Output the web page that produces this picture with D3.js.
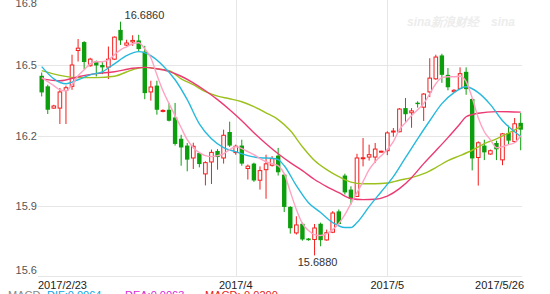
<!DOCTYPE html>
<html>
<head>
<meta charset="utf-8">
<script src="https://cdn.jsdelivr.net/npm/d3@7/dist/d3.min.js"></script>
<style>
  body { margin: 0; background: #fff; }
  svg { display: block; font-family: Arial, "Liberation Sans", sans-serif; }
</style>
</head>
<body>
<div id="chartDiv"></div>
<script>
// daily k-line, 80 sessions, 2017/2/23 .. 2017/5/26
var opens = [16.455,16.410,16.317,16.317,16.392,16.410,16.563,16.599,16.498,16.516,
  16.501,16.492,16.526,16.651,16.586,16.600,16.606,16.558,16.386,16.413,
  16.303,16.310,16.277,16.186,16.157,16.104,16.125,16.036,16.087,16.134,
  16.104,16.215,16.127,16.157,16.059,16.080,16.009,16.054,16.073,16.114,
  16.033,15.895,15.784,15.823,15.760,15.756,15.823,15.754,15.787,15.876,
  16.029,15.969,15.940,16.102,16.108,16.108,16.129,16.135,16.215,16.216,
  16.317,16.297,16.340,16.321,16.386,16.442,16.542,16.459,16.387,16.401,
  16.472,16.356,16.106,16.157,16.121,16.168,16.096,16.211,16.174,16.254];
var highs = [16.469,16.417,16.331,16.403,16.413,16.545,16.612,16.603,16.532,16.520,
  16.516,16.580,16.623,16.686,16.609,16.628,16.630,16.583,16.434,16.434,
  16.312,16.339,16.339,16.203,16.168,16.169,16.128,16.090,16.140,16.142,
  16.225,16.259,16.161,16.182,16.076,16.084,16.068,16.118,16.112,16.147,
  16.033,15.898,15.855,15.828,15.762,15.822,15.828,15.798,15.877,15.884,
  16.037,15.983,16.122,16.189,16.161,16.168,16.135,16.218,16.232,16.317,
  16.360,16.317,16.346,16.381,16.530,16.545,16.549,16.488,16.398,16.491,
  16.491,16.359,16.175,16.182,16.140,16.178,16.211,16.242,16.275,16.296];
var lows = [16.367,16.292,16.314,16.249,16.249,16.395,16.516,16.484,16.494,16.452,
  16.462,16.441,16.523,16.587,16.581,16.583,16.558,16.355,16.349,16.289,
  16.299,16.260,16.157,16.071,16.047,16.057,16.064,15.987,15.993,16.054,
  16.080,16.151,16.118,16.071,16.012,16.002,15.969,15.930,16.067,16.029,
  15.873,15.781,15.777,15.751,15.751,15.688,15.727,15.751,15.783,15.820,
  15.948,15.905,15.939,16.068,16.093,16.083,16.127,16.116,16.195,16.214,
  16.259,16.233,16.319,16.262,16.364,16.438,16.425,16.393,16.385,16.398,
  16.374,16.051,15.986,16.095,16.118,16.095,16.073,16.161,16.169,16.137];
var closes = [16.384,16.310,16.326,16.386,16.404,16.501,16.573,16.514,16.526,16.499,
  16.491,16.526,16.620,16.606,16.595,16.606,16.569,16.381,16.407,16.310,
  16.307,16.263,16.164,16.149,16.097,16.154,16.078,16.084,16.128,16.108,
  16.201,16.157,16.154,16.080,16.069,16.008,16.050,16.079,16.101,16.043,
  15.895,15.804,15.818,15.756,15.753,15.805,15.753,15.785,15.869,15.822,
  15.957,15.929,16.104,16.105,16.118,16.142,16.133,16.211,16.219,16.313,
  16.291,16.305,16.334,16.377,16.445,16.535,16.459,16.406,16.393,16.464,
  16.398,16.102,16.169,16.128,16.135,16.141,16.207,16.178,16.250,16.225];

// moving averages: [session index, value]
var ma5 = [[0,16.447],[1,16.430],[2,16.413],[3,16.395],[4,16.391],[5,16.417],[6,16.455],[7,16.481],
  [8,16.506],[9,16.515],[10,16.515],[11,16.523],[12,16.545],[13,16.566],[14,16.579],[15,16.592],
  [16,16.596],[17,16.570],[18,16.532],[19,16.459],[20,16.391],[21,16.336],[22,16.285],[23,16.233],
  [24,16.182],[25,16.148],[26,16.127],[27,16.114],[28,16.110],[29,16.114],[30,16.122],[31,16.140],
  [32,16.152],[33,16.144],[34,16.131],[35,16.118],[36,16.101],[37,16.088],[38,16.080],[39,16.071],
  [40,16.037],[41,15.960],[42,15.884],[43,15.824],[44,15.794],[45,15.777],[46,15.773],[47,15.781],
  [48,15.798],[49,15.824],[50,15.862],[51,15.909],[52,15.956],[53,16.003],[54,16.054],[55,16.088],
  [56,16.114],[57,16.140],[58,16.174],[59,16.225],[60,16.255],[61,16.285],[62,16.310],[63,16.336],
  [64,16.378],[65,16.421],[66,16.447],[67,16.451],[68,16.451],[69,16.453],[70,16.430],[71,16.361],
  [72,16.276],[73,16.216],[74,16.182],[75,16.148],[76,16.152],[77,16.161],[78,16.169],[79,16.199]];
var ma10 = [[0,16.494],[2,16.442],[4,16.421],[6,16.438],[8,16.459],[10,16.472],[12,16.506],[14,16.541],
  [16,16.558],[18,16.541],[20,16.498],[22,16.438],[24,16.353],[26,16.250],[28,16.186],[30,16.148],
  [32,16.131],[34,16.114],[36,16.105],[38,16.103],[39,16.097],[40,16.071],[42,15.986],[44,15.913],
  [46,15.871],[48,15.828],[50,15.807],[51,15.807],[52,15.828],[54,15.896],[56,15.960],[58,16.024],
  [60,16.105],[62,16.186],[64,16.263],[66,16.336],[68,16.383],[70,16.408],[72,16.383],[74,16.332],
  [76,16.263],[78,16.216],[79,16.196]];
var ma20 = [[0,16.442],[3,16.434],[6,16.451],[9,16.464],[12,16.472],[15,16.487],[17,16.491],[19,16.485],
  [21,16.474],[23,16.453],[25,16.425],[27,16.391],[29,16.353],[31,16.310],[33,16.263],[35,16.212],
  [37,16.165],[39,16.122],[41,16.084],[43,16.050],[45,16.012],[47,15.982],[49,15.956],[51,15.931],
  [53,15.926],[55,15.928],[57,15.941],[59,15.973],[61,16.020],[63,16.080],[65,16.135],[67,16.191],
  [69,16.250],[70,16.280],[72,16.295],[75,16.302],[79,16.300]];
var ma30 = [[0,16.477],[3,16.457],[6,16.447],[9,16.447],[12,16.453],[15,16.481],[17,16.491],[19,16.485],
  [21,16.477],[23,16.442],[25,16.417],[27,16.387],[29,16.368],[31,16.357],[33,16.344],[35,16.323],
  [37,16.297],[39,16.268],[41,16.221],[43,16.152],[45,16.093],[47,16.054],[49,16.024],[51,16.001],
  [53,15.994],[55,15.994],[57,15.997],[59,16.009],[61,16.020],[63,16.037],[65,16.063],[67,16.093],
  [69,16.114],[71,16.137],[73,16.165],[75,16.186],[77,16.210],[79,16.238]];

var yTicks = [15.6, 15.9, 16.2, 16.5, 16.8];
var dateTickIdx = [0, 32, 57, 79];
var dateTickLabels = ['2017/2/23', '2017/4', '2017/5', '2017/5/26'];
var maxIdx = 13, minIdx = 45;

var w = 550, h = 294,
  left = 38, right = 522, bottom = 276;

var svg = d3.select('#chartDiv').append('svg')
  .attr('width', w)
  .attr('height', h);

var x = d3.scaleLinear().domain([0, opens.length - 1]).range([41.7, 520.7]);
var y = d3.scaleLinear().domain([15.6, 16.8]).range([276, -5]);

// faint watermark
svg.append('text').attr('x', 407).attr('y', 26)
  .attr('font-size', 12).attr('font-style', 'italic').attr('font-weight', 'bold')
  .attr('fill', '#ededed').text('sina新浪财经');
svg.append('text').attr('x', 491).attr('y', 26)
  .attr('font-size', 12).attr('font-style', 'italic').attr('font-weight', 'bold')
  .attr('fill', '#ededed').text('sina');

// grid
var grid = svg.append('g').attr('class', 'grid');
grid.selectAll('.hline').data(yTicks).enter().append('line')
  .attr('x1', left).attr('x2', right)
  .attr('y1', function(d) { return Math.round(y(d)) + 0.5; })
  .attr('y2', function(d) { return Math.round(y(d)) + 0.5; })
  .attr('stroke', '#e6e6e6');
grid.selectAll('.vline').data(dateTickIdx.slice(1, 3)).enter().append('line')
  .attr('x1', function(d) { return Math.round(x(d)) + 0.5; })
  .attr('x2', function(d) { return Math.round(x(d)) + 0.5; })
  .attr('y1', 0).attr('y2', bottom)
  .attr('stroke', '#e6e6e6');

// y labels
svg.selectAll('.ylab').data(yTicks).enter().append('text')
  .attr('x', 37)
  .attr('y', function(d) { return Math.min(Math.max(y(d), 3), 270) + 4; })
  .attr('text-anchor', 'end')
  .attr('font-size', 11)
  .attr('fill', '#555')
  .text(function(d) { return d.toFixed(1); });

// x labels
svg.selectAll('.xlab').data(dateTickIdx).enter().append('text')
  .attr('x', function(d, i) {
    if (i === 0) return left;
    if (i === dateTickIdx.length - 1) return 524;
    return x(d);
  })
  .attr('y', 288.5)
  .attr('text-anchor', function(d, i) {
    return i === 0 ? 'start' : (i === dateTickIdx.length - 1 ? 'end' : 'middle');
  })
  .attr('font-size', 11)
  .attr('fill', '#222')
  .text(function(d, i) { return dateTickLabels[i]; });

// candles
var up = '#f51d1d', down = '#0c9e0c';
var candles = svg.append('g').selectAll('g').data(opens).enter().append('g');
candles.append('line')
  .attr('x1', function(d, i) { return x(i); })
  .attr('x2', function(d, i) { return x(i); })
  .attr('y1', function(d, i) { return y(highs[i]); })
  .attr('y2', function(d, i) { return y(lows[i]); })
  .attr('stroke', function(d, i) { return closes[i] >= opens[i] ? up : down; })
  .attr('stroke-width', 1);
candles.append('rect')
  .attr('x', function(d, i) { return closes[i] >= opens[i] ? x(i) - 1.8 : x(i) - 2.2; })
  .attr('width', function(d, i) { return closes[i] >= opens[i] ? 3.6 : 4.4; })
  .attr('y', function(d, i) { return y(Math.max(opens[i], closes[i])); })
  .attr('height', function(d, i) {
    return Math.max(1, y(Math.min(opens[i], closes[i])) - y(Math.max(opens[i], closes[i])));
  })
  .attr('fill', function(d, i) { return closes[i] >= opens[i] ? '#fff' : down; })
  .attr('stroke', function(d, i) { return closes[i] >= opens[i] ? up : 'none'; })
  .attr('stroke-width', 1);

// moving averages
var line = d3.line()
  .x(function(d) { return x(d[0]); })
  .y(function(d) { return y(d[1]); })
  .curve(d3.curveMonotoneX);
var maSeries = [
  { data: ma30, color: '#9cc11e' },
  { data: ma20, color: '#ec3a73' },
  { data: ma10, color: '#27b9dd' },
  { data: ma5, color: '#ffa3c2' }
];
svg.selectAll('.ma').data(maSeries).enter().append('path')
  .attr('d', function(d) { return line(d.data); })
  .attr('fill', 'none')
  .attr('stroke', function(d) { return d.color; })
  .attr('stroke-width', 1.4);

// max / min markers
svg.append('text')
  .attr('x', x(maxIdx) + 4).attr('y', y(highs[maxIdx]) - 3)
  .attr('font-size', 11).attr('fill', '#333')
  .text(highs[maxIdx].toFixed(4));
svg.append('text')
  .attr('x', x(minIdx) + 3).attr('y', y(lows[minIdx]) + 11)
  .attr('text-anchor', 'middle')
  .attr('font-size', 11).attr('fill', '#333')
  .text(lows[minIdx].toFixed(4));

// MACD legend row (cut off at the bottom, as in the source)
var macdLegend = [
  { text: 'MACD', x: 8, color: '#888' },
  { text: 'DIF:0.0064', x: 47, color: '#0aa6e8' },
  { text: 'DEA:0.0063', x: 125, color: '#d82ad8' },
  { text: 'MACD:-0.0200', x: 205, color: '#e81c1c' }
];
svg.selectAll('.macd').data(macdLegend).enter().append('text')
  .attr('x', function(d) { return d.x; })
  .attr('y', 299)
  .attr('font-size', 11)
  .attr('fill', function(d) { return d.color; })
  .text(function(d) { return d.text; });
</script>
</body>
</html>
